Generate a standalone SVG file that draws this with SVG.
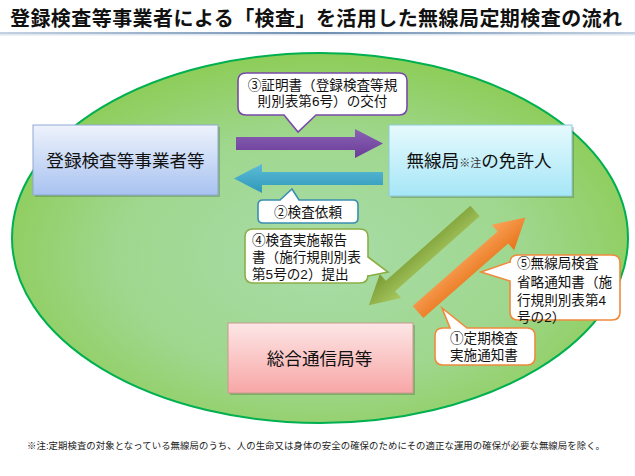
<svg xmlns="http://www.w3.org/2000/svg" width="635" height="476" viewBox="0 0 635 476">
<defs>
<radialGradient id="gEll" cx="0.5" cy="0.55" r="0.55">
<stop offset="0" stop-color="#a8dca8"/>
<stop offset="0.6" stop-color="#9fd78e"/>
<stop offset="1" stop-color="#8dcd58"/>
</radialGradient>
<linearGradient id="gLine" x1="0" y1="0" x2="1" y2="0">
<stop offset="0" stop-color="#c4d2e2"/>
<stop offset="0.5" stop-color="#6f8fb2"/>
<stop offset="1" stop-color="#c4d2e2"/>
</linearGradient>
<linearGradient id="gBlue" x1="0" y1="0" x2="0" y2="1">
<stop offset="0" stop-color="#eef3fc"/>
<stop offset="1" stop-color="#a8c2f0"/>
</linearGradient>
<linearGradient id="gCyan" x1="0" y1="0" x2="0" y2="1">
<stop offset="0" stop-color="#e6fafd"/>
<stop offset="1" stop-color="#a6e6f7"/>
</linearGradient>
<linearGradient id="gPink" x1="0" y1="0" x2="0" y2="1">
<stop offset="0" stop-color="#fde6e6"/>
<stop offset="1" stop-color="#f8a6a6"/>
</linearGradient>
<linearGradient id="gPurple" x1="0" y1="0" x2="0" y2="1">
<stop offset="0" stop-color="#8a62b4"/>
<stop offset="1" stop-color="#6a3c98"/>
</linearGradient>
<linearGradient id="gTeal" x1="0" y1="0" x2="0" y2="1">
<stop offset="0" stop-color="#5cbcd8"/>
<stop offset="1" stop-color="#2f98b8"/>
</linearGradient>
<linearGradient id="gOlive" x1="0" y1="0" x2="0" y2="1">
<stop offset="0" stop-color="#a8c860"/>
<stop offset="1" stop-color="#7a9a34"/>
</linearGradient>
<linearGradient id="gOrange" x1="0" y1="0" x2="0" y2="1">
<stop offset="0" stop-color="#f9a35a"/>
<stop offset="1" stop-color="#e8741a"/>
</linearGradient>
</defs>
<style>
text{font-family:"Liberation Sans","Noto Sans CJK JP",sans-serif;fill:#111;}
.title{font-size:20px;font-weight:bold;}
.box{font-size:17.6px;text-anchor:middle;}
.cl{font-size:13.6px;}
.call{fill:#fff;stroke-width:1.6;}
.shadow{fill:#000;opacity:0.18;}
.note{font-size:9.4px;fill:#222;}
</style>
<rect x="0" y="0" width="635" height="476" fill="#fff"/>
<text class="title" x="10" y="26" textLength="612">登録検査等事業者による「検査」を活用した無線局定期検査の流れ</text>
<rect x="0" y="32" width="635" height="2" fill="url(#gLine)"/>
<rect x="0" y="34" width="635" height="1.5" fill="#dfe6ee"/>
<ellipse cx="320" cy="238" rx="308" ry="185" fill="url(#gEll)" stroke="#00b050" stroke-width="2"/>

<g id="connectors">
<polygon points="236,137 355,137 355,129 383,143.5 355,158 355,150 236,150" fill="url(#gPurple)"/>
<polygon points="383,172 262,172 262,164 234,178.5 262,193 262,185 383,185" fill="url(#gTeal)"/>
<g transform="translate(475,211) rotate(138.4)">
<polygon points="0,-7 113,-7 113,-16 142,0 113,16 113,7 0,7" fill="url(#gOlive)"/>
</g>
<g transform="translate(418,312) rotate(-41.3)">
<polygon points="0,-8 113,-8 113,-17 143,0 113,17 113,8 0,8" fill="url(#gOrange)"/>
</g>
</g>

<g id="node-registered">
<rect class="shadow" x="35" y="127" width="185" height="70"/>
<rect x="33" y="125" width="185" height="70" fill="url(#gBlue)" stroke="#8ea8d4" stroke-width="1"/>
<text class="box" x="125.5" y="166.5">登録検査等事業者等</text>
</g>
<g id="node-licensee">
<rect class="shadow" x="391" y="127" width="183" height="71"/>
<rect x="389" y="125" width="183" height="71" fill="url(#gCyan)" stroke="#8ccbd8" stroke-width="1"/>
<text class="box" x="479" y="167"><tspan>無線局</tspan><tspan font-size="11px" fill="#333">※注</tspan><tspan>の免許人</tspan></text>
</g>
<g id="node-bureau">
<rect class="shadow" x="230" y="325" width="185" height="70"/>
<rect x="228" y="323" width="185" height="70" fill="url(#gPink)" stroke="#c89a8c" stroke-width="1"/>
<text class="box" x="319.5" y="365">総合通信局等</text>
</g>

<g id="callout-3">
<path class="call" stroke="#7a4aa8" d="M246,73 H399 Q407,73 407,81 V107 Q407,115 399,115 H316 L298,132 L284,115 H246 Q238,115 238,107 V81 Q238,73 246,73 Z"/>
<text class="cl" x="322.5" y="90" text-anchor="middle">③証明書（登録検査等規</text>
<text class="cl" x="322.5" y="106" text-anchor="middle">則別表第6号）の交付</text>
</g>
<g id="callout-2">
<path class="call" stroke="#3a8fae" d="M263,200 H280 L292,189 L299,200 H353 Q358,200 358,205 V218 Q358,223 353,223 H263 Q258,223 258,218 V205 Q258,200 263,200 Z"/>
<text class="cl" x="308" y="216.5" text-anchor="middle">②検査依頼</text>
</g>
<g id="callout-4">
<path class="call" stroke="#8cae44" d="M253,229 H360 Q368,229 368,237 V257 L388,272 L368,276 V275 Q368,283 360,283 H253 Q245,283 245,275 V237 Q245,229 253,229 Z"/>
<text class="cl" x="252" y="245">④検査実施報告</text>
<text class="cl" x="252" y="262">書（施行規則別表</text>
<text class="cl" x="252" y="279">第5号の2）提出</text>
</g>
<g id="callout-5">
<path class="call" stroke="#f08a3c" d="M518,255 H612 Q620,255 620,263 V312 Q620,320 612,320 H518 Q510,320 510,312 V281 L481,272 L510,262 V263 Q510,255 518,255 Z"/>
<text class="cl" x="517" y="268">⑤無線局検査</text>
<text class="cl" x="517" y="287">省略通知書（施</text>
<text class="cl" x="517" y="305">行規則別表第4</text>
<text class="cl" x="517" y="322">号の2）</text>
</g>
<g id="callout-1">
<path class="call" stroke="#f08a3c" d="M443,328 H450 L442,308 L467,328 H527 Q535,328 535,336 V357 Q535,365 527,365 H443 Q435,365 435,357 V336 Q435,328 443,328 Z"/>
<text class="cl" x="450" y="343">①定期検査</text>
<text class="cl" x="450" y="360">実施通知書</text>
</g>

<text class="note" x="27" y="449" textLength="578">※注:定期検査の対象となっている無線局のうち、人の生命又は身体の安全の確保のためにその適正な運用の確保が必要な無線局を除く。</text>
</svg>
